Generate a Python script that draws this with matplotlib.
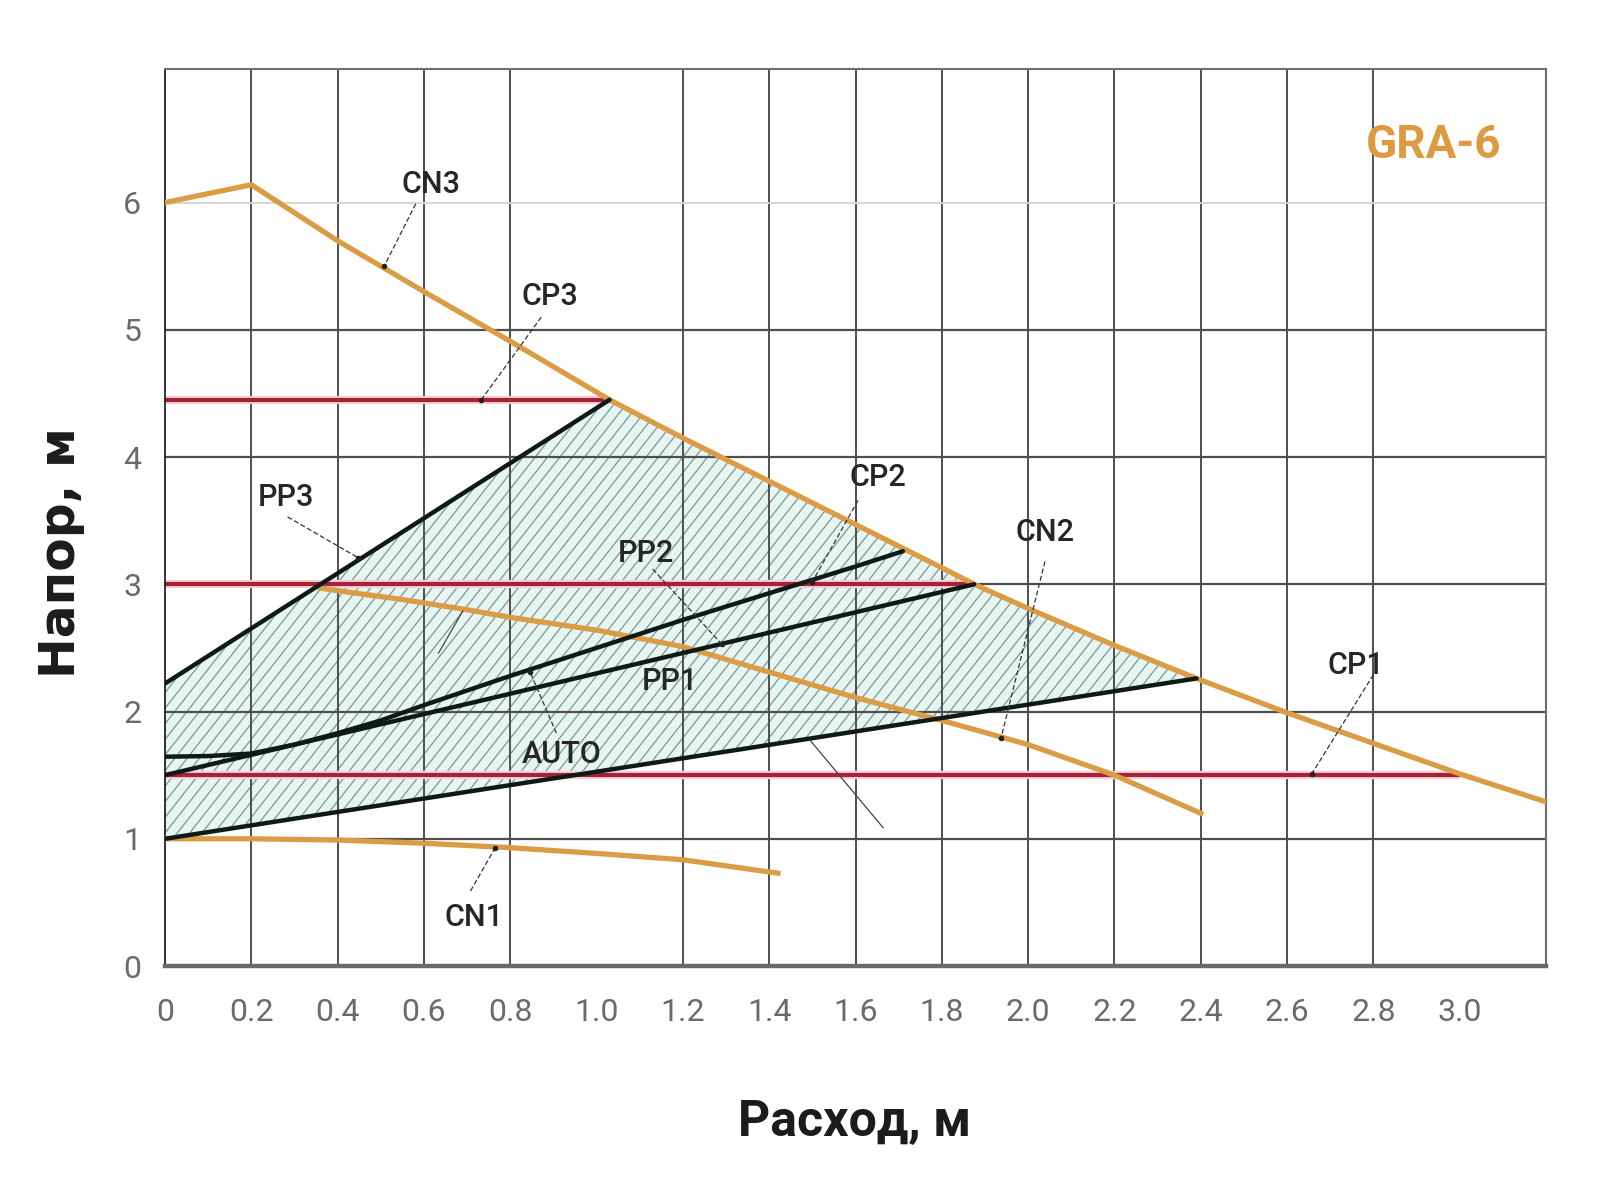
import numpy as np
import matplotlib

matplotlib.use("Agg")
import matplotlib.pyplot as plt
from matplotlib import font_manager
from matplotlib.collections import LineCollection
from matplotlib.patches import Polygon


# values (x: flow, y: head)
CN3_X = [0.0, 0.2, 0.4, 0.6, 0.8, 1.03, 1.2, 1.4, 1.6, 1.8, 1.875, 2.0, 2.2, 2.39, 2.6, 2.8, 3.0, 3.2]
CN3_Y = [6.0, 6.14, 5.70, 5.30, 4.91, 4.45, 4.15, 3.81, 3.47, 3.13, 3.0, 2.81, 2.52, 2.26, 1.99, 1.75, 1.51, 1.29]

CN2_X = [0.36, 0.4, 0.55, 0.7, 0.8, 1.0, 1.2, 1.4, 1.6, 1.8, 2.0, 2.2, 2.4]
CN2_Y = [2.97, 2.95, 2.88, 2.80, 2.74, 2.64, 2.51, 2.31, 2.11, 1.93, 1.74, 1.50, 1.20]

CN1_X = [0.0, 0.2, 0.4, 0.6, 0.8, 1.0, 1.2, 1.42]
CN1_Y = [1.0, 1.0, 0.99, 0.965, 0.93, 0.885, 0.835, 0.73]

CP_LEVELS = [4.45, 3.0, 1.5]        # CP3, CP2, CP1
CP_END_X = [1.03, 1.875, 3.0]

PP3_X = [0.0, 1.03]
PP3_Y = [2.22, 4.45]
PP2_X = [0.0, 1.875]
PP2_Y = [1.5, 3.0]
AUTO_X = [0.0, 0.1, 0.2, 0.3, 0.4, 0.5, 0.6, 0.8, 1.0, 1.2, 1.4, 1.6, 1.71]
AUTO_Y = [1.645, 1.65, 1.67, 1.74, 1.83, 1.93, 2.05, 2.28, 2.50, 2.72, 2.93, 3.14, 3.26]
PP1_X = [0.0, 2.39]
PP1_Y = [1.0, 2.26]

X_TICKS = [0, 0.2, 0.4, 0.6, 0.8, 1.0, 1.2, 1.4, 1.6, 1.8, 2.0, 2.2, 2.4, 2.6, 2.8, 3.0]
X_TICK_LABELS = ["0", "0.2", "0.4", "0.6", "0.8", "1.0", "1.2", "1.4", "1.6", "1.8",
                 "2.0", "2.2", "2.4", "2.6", "2.8", "3.0"]
Y_TICKS = [0, 1, 2, 3, 4, 5, 6]
V_GRID = [0.2, 0.4, 0.6, 0.8, 1.2, 1.4, 1.6, 1.8, 2.0, 2.2, 2.4, 2.6, 2.8]
H_GRID = [1, 2, 3, 4, 5]

# curve labels: text anchor, leader start, leader end (on the curve)
LABELS = ["CN3", "CP3", "PP3", "PP2", "PP1", "AUTO", "CN1", "CP2", "CN2", "CP1"]
LABEL_X = [0.616, 0.891, 0.28, 1.115, 1.169, 0.918, 0.716, 1.651, 2.039, 2.76]
LABEL_Y = [6.14, 5.26, 3.68, 3.24, 2.235, 1.66, 0.38, 3.84, 3.41, 2.36]
LEAD_X0 = [0.581, 0.872, 0.284, 1.13, None, 0.907, 0.708, 1.606, 2.039, 2.80]
LEAD_Y0 = [5.99, 5.10, 3.53, 3.12, None, 1.83, 0.59, 3.66, 3.18, 2.29]
LEAD_X1 = [0.508, 0.733, 0.447, 1.29, None, 0.846, 0.765, 1.50, 1.937, 2.657]
LEAD_Y1 = [5.50, 4.45, 3.21, 2.53, None, 2.31, 0.93, 3.02, 1.79, 1.51]
# leaders without text in the source picture
LOOSE_X0 = [1.495, 0.69]
LOOSE_Y0 = [1.773, 2.79]
LOOSE_X1 = [1.664, 0.634]
LOOSE_Y1 = [1.087, 2.46]

ORANGE = "#db9c46"
RED = "#a5223b"
RED_HALO = "#f7d0d5"
BLACK = "#0f1a17"
GRID = "#4f4f4f"

_names = {f.name for f in font_manager.fontManager.ttflist}
NARROW = "Liberation Sans Narrow" if "Liberation Sans Narrow" in _names else "Roboto"


def make_plot(out_path: str = "out.png") -> None:
    fig = plt.figure(figsize=(16, 11.99), dpi=100)
    ax = fig.add_axes([0.1031, 0.1943, 0.8632, 0.7482])
    ax.set_xlim(0, 3.2)
    ax.set_ylim(0, 7.05)

    # grid (no lines at 1.0 and 3.0 in the original)
    for gx in V_GRID:
        ax.axvline(gx, color=GRID, lw=1.4, zorder=1)
    for gy in H_GRID:
        ax.axhline(gy, color=GRID, lw=1.6, zorder=1)
    ax.axhline(6, color="#d6d6d6", lw=1.4, zorder=1)

    # operating zone: between PP1 and PP3/CN3
    seg = [(x, y) for x, y in zip(CN3_X, CN3_Y) if PP3_X[-1] < x <= PP1_X[-1]]
    verts = list(zip(PP3_X, PP3_Y)) + seg + list(zip(PP1_X, PP1_Y))[::-1]
    zone = Polygon(verts, closed=True, facecolor="#e6f5f2", edgecolor="none", zorder=0.5)
    ax.add_patch(zone)
    slope = 4.3
    x0 = np.arange(-7.05 / slope, 3.2, 0.0285)
    hatch = LineCollection(
        [[(a, 0), (a + 7.05 / slope, 7.05)] for a in x0],
        colors="#7a9792", linewidths=0.9, zorder=0.6,
    )
    ax.add_collection(hatch)
    hatch.set_clip_path(zone)

    # constant pressure lines
    for level, xe in zip(CP_LEVELS, CP_END_X):
        ax.plot([0, xe], [level, level], color=RED_HALO, lw=6, solid_capstyle="butt", zorder=2)
        ax.plot([0, xe], [level, level], color=RED, lw=3, solid_capstyle="butt", zorder=2.1)

    # pump curves
    for xs, ys in [(CN3_X, CN3_Y), (CN2_X, CN2_Y), (CN1_X, CN1_Y)]:
        ax.plot(xs, ys, color=ORANGE, lw=3.8, zorder=3, solid_joinstyle="round")
    for xs, ys in [(PP3_X, PP3_Y), (PP2_X, PP2_Y), (AUTO_X, AUTO_Y), (PP1_X, PP1_Y)]:
        ax.plot(xs, ys, color=BLACK, lw=3.2, zorder=4, solid_capstyle="round")

    # labels and leaders
    for name, tx, ty, a, b, c, d in zip(LABELS, LABEL_X, LABEL_Y, LEAD_X0, LEAD_Y0, LEAD_X1, LEAD_Y1):
        ax.text(tx, ty, name, ha="center", va="center", fontsize=22,
                family="Roboto", fontweight="medium", color="#262626", zorder=6)
        if a is not None:
            ax.plot([a, c], [b, d], color="#333333", lw=0.9, ls=(0, (4, 2)), zorder=5)
            ax.plot([c], [d], "o", color="#222222", ms=3, zorder=5)
    for a, b, c, d in zip(LOOSE_X0, LOOSE_Y0, LOOSE_X1, LOOSE_Y1):
        ax.plot([a, c], [b, d], color="#444444", lw=0.9, zorder=5)

    ax.text(2.94, 6.45, "GRA-6", ha="center", va="center", fontsize=33,
            family=NARROW, fontweight="bold", color="#dd9a40", zorder=6)

    # axes frame
    for side in ("top", "right"):
        ax.spines[side].set_color("#6e6e6e")
        ax.spines[side].set_linewidth(1.5)
    ax.spines["left"].set_color("#222222")
    ax.spines["left"].set_linewidth(1.3)
    ax.spines["bottom"].set_color("#6a6a6a")
    ax.spines["bottom"].set_linewidth(3.2)

    ax.set_xticks(X_TICKS)
    ax.set_xticklabels(X_TICK_LABELS)
    ax.set_yticks(Y_TICKS)
    ax.tick_params(axis="both", which="major", length=0, labelsize=23, labelcolor="#6a6a6a")
    ax.tick_params(axis="x", which="major", pad=23)
    ax.tick_params(axis="y", which="major", pad=17)
    for lab in ax.get_xticklabels() + ax.get_yticklabels():
        lab.set_family(NARROW)
        lab.set_fontweight("normal")
    # only the origin gets small outward ticks
    ax.set_xticks([0], minor=True)
    ax.set_yticks([0], minor=True)
    ax.tick_params(axis="x", which="minor", length=12, width=1.3, color="#222222", direction="out")
    ax.tick_params(axis="y", which="minor", length=9, width=3.2, color="#6a6a6a", direction="out")

    fig.text(0.0384, 0.5388, "Напор, м", rotation=90, ha="center", va="center",
             fontsize=35, fontweight="bold", family="DejaVu Sans", color="#1c1c1c")
    fig.text(0.534, 0.064, "Расход, м", ha="center", va="center",
             fontsize=36, fontweight="bold", family="Roboto", color="#1c1c1c")

    fig.savefig(out_path, dpi=100, facecolor="white")
    plt.close(fig)


if __name__ == "__main__":
    make_plot()
